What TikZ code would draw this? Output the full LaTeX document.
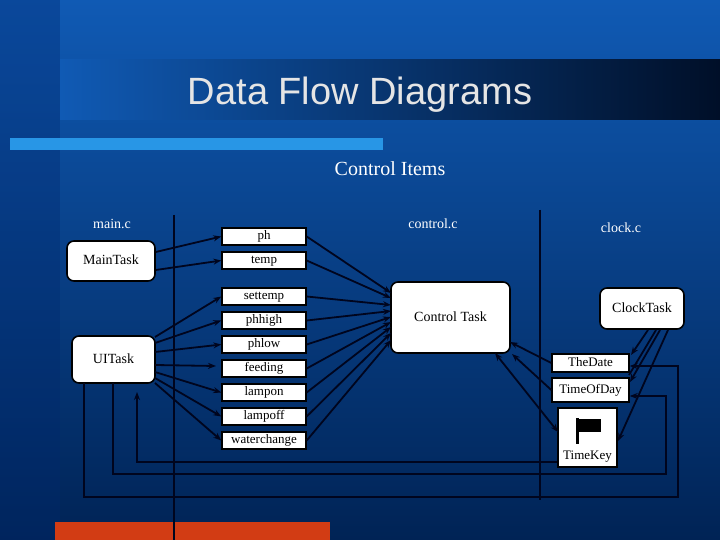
\documentclass[tikz,border=0pt]{standalone}
\usepackage{fontspec}
\setmainfont{Liberation Serif}
\newfontfamily\titlefont{Liberation Sans}
\usetikzlibrary{arrows.meta}
\definecolor{bgtop}{RGB}{16,90,180}
\definecolor{bgbot}{RGB}{0,35,85}
\definecolor{strip}{RGB}{0,40,110}
\definecolor{banddark}{RGB}{0,15,40}
\definecolor{barblue}{RGB}{40,150,230}
\definecolor{barorange}{RGB}{210,60,20}
\definecolor{ink}{RGB}{0,5,30}
\begin{document}
\begin{tikzpicture}[x=1pt,y=-1pt,>={Stealth[length=8pt,width=6pt]},
  task/.style={draw=black,line width=1.6pt,fill=white,rounded corners=7pt,font=\fontsize{14}{14}\selectfont,inner sep=0pt,text height=10pt,text depth=3pt},
  item/.style={draw=black,line width=1.4pt,fill=white,font=\fontsize{13}{13}\selectfont,inner sep=0pt,minimum width=84pt,minimum height=17pt,text height=9pt,text depth=3pt},
  lbl/.style={text=white,font=\fontsize{14}{14}\selectfont},
  flow/.style={draw=ink,line width=1.8pt,->},
  line/.style={draw=ink,line width=1.8pt}]
\useasboundingbox (0,0) rectangle (720,540);
\shade[top color=bgtop,bottom color=bgbot] (0,0) rectangle (720,540);
\fill[strip,opacity=0.35] (0,0) rectangle (60,540);
\shade[left color=bgtop,right color=banddark] (60,60) rectangle (720,120);
\node[text=white!80!gray,font=\titlefont\fontsize{38}{38}\selectfont] (title) at (360,95) {Data Flow Diagrams};
\fill[barblue] (10,138) rectangle (383,150);
\fill[barorange] (55,522) rectangle (330,540);
\node[text=white,font=\fontsize{20}{20}\selectfont] (ci) at (390,169) {Control Items};
\node[lbl] (mc) at (112,224) {main.c};
\node[lbl] (cc) at (433,224) {control.c};
\node[lbl] (kc) at (621,228) {clock.c};
\coordinate (v1a) at (174,215); \coordinate (v1b) at (174,540);
\coordinate (v2a) at (540,210); \coordinate (v2b) at (540,500);
\draw[line] (v1a) -- (v1b);
\draw[line] (v2a) -- (v2b);
% tasks
\node[task,minimum width=88pt,minimum height=40pt] (mt) at (111,261) {MainTask};
\node[task,minimum width=83pt,minimum height=47pt] (ui) at (113.5,359.5) {UITask};
\node[task,minimum width=119pt,minimum height=71pt] (ct) at (450.5,317.5) {Control Task};
\node[task,minimum width=84pt,minimum height=41pt] (kt) at (642,308.5) {ClockTask};
% items
\node[item] (ph) at (264,236.5) {ph};
\node[item] (temp) at (264,260.5) {temp};
\node[item] (settemp) at (264,296.5) {settemp};
\node[item] (phhigh) at (264,320.5) {phhigh};
\node[item] (phlow) at (264,344.5) {phlow};
\node[item] (feeding) at (264,368.5) {feeding};
\node[item] (lampon) at (264,392.5) {lampon};
\node[item] (lampoff) at (264,416.5) {lampoff};
\node[item] (water) at (264,440.5) {waterchange};
\node[item,minimum width=77pt,minimum height=18pt] (date) at (590.5,363) {TheDate};
\node[item,minimum width=77pt,minimum height=24pt] (tod) at (590.5,390) {TimeOfDay};
\node[item,minimum width=59pt,minimum height=59pt] (tk) at (587.5,437.5) {};
\node[font=\fontsize{13}{13}\selectfont,inner sep=0pt] (tkl) at (587.5,457) {TimeKey};
\fill[black] (576,418) rectangle (579,444);
\fill[black] (579,419) rectangle (601,432);
% MainTask
\draw[flow] (mt.east |- 0,252) -- (ph.west);
\draw[flow] (mt.east |- 0,270) -- (temp.west);
% UITask
\foreach \t/\yy in {settemp/337,phhigh/343,phlow/352,lampon/372,lampoff/378,water/383}
  \draw[flow] (155,\yy) -- (\t.west);
\draw[flow] (155,365) -- (216,366);
% to control task
\foreach \t/\yy in {ph/293,temp/298,settemp/305,phhigh/311,phlow/317,feeding/322,lampon/327,lampoff/333,water/340}
  \draw[flow] (\t.east) -- (391,\yy);
% clock side
\draw[flow] (date.west) -- (510,342);
\draw[flow] (tod.west) -- (512,354);
\draw[line,<->] (495,353) -- (558,432);
\draw[flow] (648,330) -- (631,355);
\draw[flow] (660,330) -- (630,382);
\draw[flow] (668,330) -- (618,441);
\draw[line] (656,330) -- (629,375);
% feedback lines
\coordinate (a1) at (137,392); \coordinate (a2) at (137,462);
\draw[flow] (tk.west |- a2) -- (a2) -- (a1);
\draw[flow] (113,383) -- (113,474) -- (666,474) -- (666,396) -- (tod.east |- 0,396);
\draw[flow] (84,383) -- (84,497) -- (678,497) -- (678,366) -- (date.east |- 0,366);
\end{tikzpicture}
\end{document}
